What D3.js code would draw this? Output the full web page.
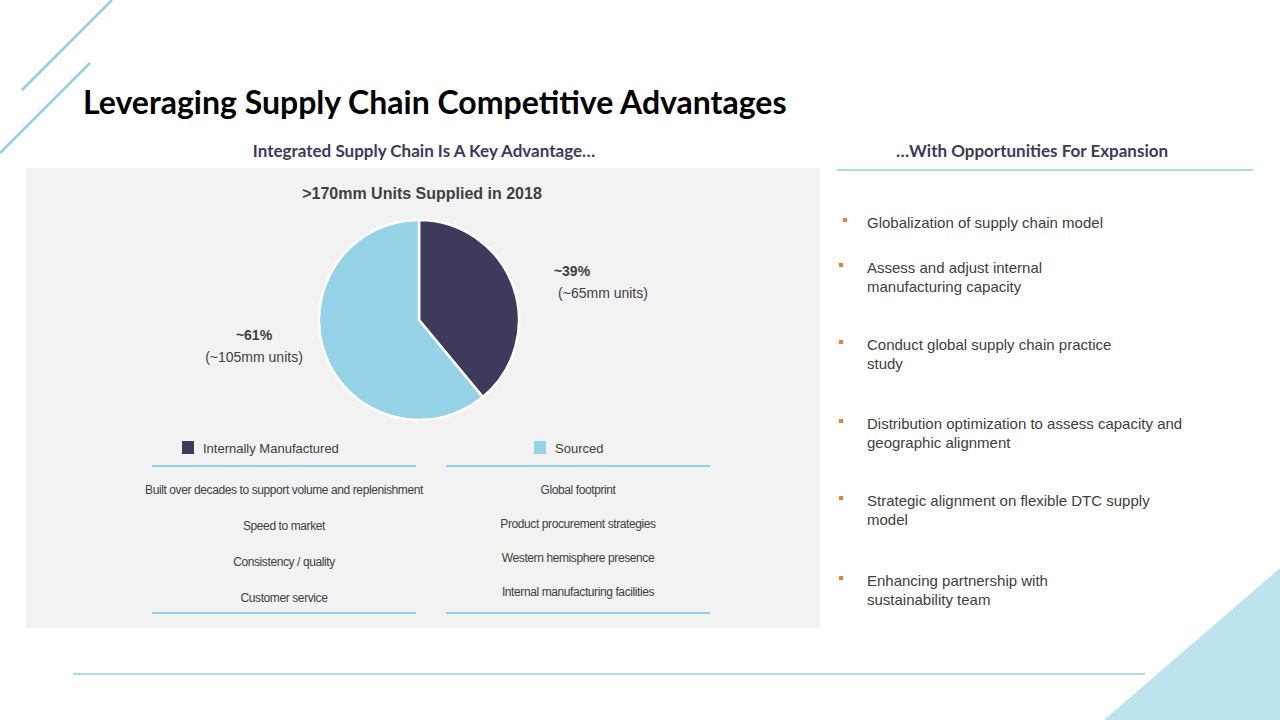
<!DOCTYPE html>
<html><head><meta charset="utf-8">
<script src="https://cdn.jsdelivr.net/npm/d3@7"></script>
<style>body{margin:0;background:#fff}svg{display:block}</style>
</head><body>
<script>
// data
const slices = ['Internally Manufactured', 'Sourced']
const shares = [39, 61]
const units = ['(~65mm units)', '(~105mm units)']
const colors = ['#3d3a5c', '#96d3e8']
const internalPoints = ['Built over decades to support volume and replenishment', 'Speed to market', 'Consistency / quality', 'Customer service']
const sourcedPoints = ['Global footprint', 'Product procurement strategies', 'Western hemisphere presence', 'Internal manufacturing facilities']
const bullets = [
	[' Globalization of supply chain model'],
	['Assess and adjust internal', 'manufacturing  capacity'],
	['Conduct global supply chain practice', 'study'],
	['Distribution optimization to assess  capacity and', 'geographic alignment'],
	['Strategic alignment on flexible DTC supply', 'model'],
	['Enhancing partnership with', 'sustainability team']
]
const bulletY = [223, 268, 345, 424, 501, 581]

const font = 'Arial, "Liberation Sans", sans-serif'
const svg = d3.select('body').append('svg').attr('width', 1280).attr('height', 720)
	.style('font-family', font)

// decoration
const deco = svg.append('g').attr('stroke', '#8fd0e8').attr('stroke-width', 2.5)
deco.append('line').attr('x1', 22).attr('y1', 90).attr('x2', 112).attr('y2', 0)
deco.append('line').attr('x1', 0).attr('y1', 153).attr('x2', 90).attr('y2', 63)
svg.append('path').attr('d', 'M1280,568L1280,720L1104,720Z').attr('fill', '#bde3ef')
svg.append('line').attr('x1', 73).attr('x2', 1145).attr('y1', 674).attr('y2', 674)
	.attr('stroke', '#8fd0e8').attr('stroke-width', 1.5)

svg.append('text').attr('x', 83).attr('y', 114).text('Leveraging Supply Chain Competitive Advantages')
	.style('font-family', 'Lato, "Open Sans", sans-serif').attr('font-weight', 'bold').attr('font-size', 32).attr('fill', '#000')

svg.append('text').attr('x', 424).attr('y', 157).attr('text-anchor', 'middle')
	.text('Integrated Supply Chain  Is A Key Advantage…').attr('font-weight', 'bold').attr('font-size', 17)
	.attr('fill', '#3d3a5c').style('font-family', 'Lato, sans-serif')
svg.append('text').attr('x', 1032).attr('y', 157).attr('text-anchor', 'middle')
	.text('…With Opportunities  For Expansion').attr('font-weight', 'bold').attr('font-size', 17)
	.attr('fill', '#3d3a5c').style('font-family', 'Lato, sans-serif')
svg.append('line').attr('x1', 837).attr('x2', 1253).attr('y1', 170).attr('y2', 170)
	.attr('stroke', '#8fd0e8').attr('stroke-width', 1.5)

// panel
svg.append('rect').attr('x', 26).attr('y', 168).attr('width', 794).attr('height', 460).attr('fill', '#f2f2f2')
svg.append('text').attr('x', 422).attr('y', 199).attr('text-anchor', 'middle')
	.text('>170mm Units Supplied in 2018').attr('font-weight', 'bold').attr('font-size', 16).attr('fill', '#404040')

// pie
const cx = 419, cy = 320, r = 100
const pie = d3.pie().sort(null)(shares)
const arc = d3.arc().innerRadius(0).outerRadius(r)
svg.append('g').attr('transform', `translate(${cx},${cy})`)
	.selectAll('path').data(pie).join('path')
	.attr('d', arc).attr('fill', (d, i) => colors[i])
	.attr('stroke', '#fff').attr('stroke-width', 2.5)

const lblPos = [[572, 276], [254, 340]]
shares.forEach((s, i) => {
	const t = svg.append('text').attr('text-anchor', 'middle').attr('fill', '#404040').attr('font-size', 14)
	t.append('tspan').attr('x', lblPos[i][0]).attr('y', lblPos[i][1]).attr('font-weight', 'bold').text(`~${s}%`)
	t.append('tspan').attr('x', lblPos[i][0] + 15 * (i ? 2 : 1) - (i ? 30 : 0) + (i ? 0 : 16)).attr('dy', 22).text(units[i])
})

// legend columns
const cols = [
	{ x: 152, mid: 284, pts: internalPoints, dy: [490, 526, 562, 598] },
	{ x: 446, mid: 578, pts: sourcedPoints, dy: [490, 524, 558, 592] }
]
cols.forEach((c, i) => {
	const lx = i ? 534 : 182
	svg.append('rect').attr('x', lx).attr('y', 441).attr('width', 12).attr('height', 13).attr('fill', colors[i])
	svg.append('text').attr('x', lx + 21).attr('y', 453).text(slices[i]).attr('font-size', 13).attr('fill', '#404040')
	;[466, 613].forEach(y => svg.append('line').attr('x1', c.x).attr('x2', c.x + 264).attr('y1', y).attr('y2', y)
		.attr('stroke', '#8fd0e8').attr('stroke-width', 2))
	c.pts.forEach((p, j) => svg.append('text').attr('x', c.mid).attr('y', c.dy[j] + 4).attr('text-anchor', 'middle')
		.text(p).attr('font-size', 12).attr('letter-spacing', -0.4).attr('fill', '#404040'))
})

// bullets
bullets.forEach((lines, i) => {
	svg.append('rect').attr('x', i ? 839 : 843).attr('y', bulletY[i] - 5).attr('width', 4).attr('height', 4).attr('fill', '#ed7d31')
	const t = svg.append('text').attr('font-size', 15).attr('fill', '#404040')
	lines.forEach((l, j) => t.append('tspan').attr('x', 867).attr('y', bulletY[i] + 5 + j * 19).text(l))
})
</script>
</body></html>
